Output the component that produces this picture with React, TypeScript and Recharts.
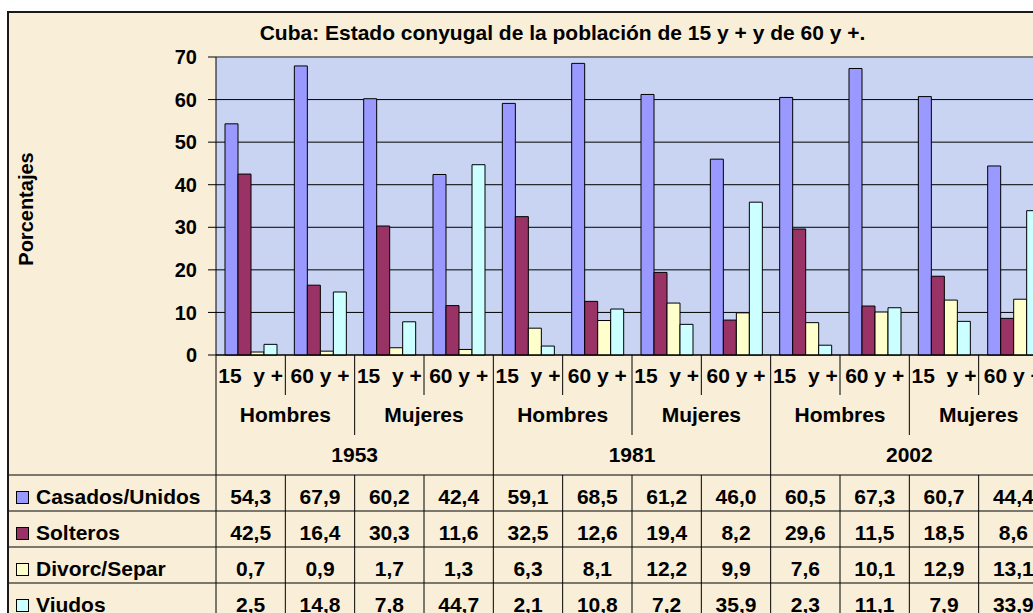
import React from 'react';
import { BarChart, Bar, XAxis, YAxis, CartesianGrid, ReferenceLine } from 'recharts';

// categories (age groups / sex / census year)
const ageLabels = ['15  y +', '60 y +', '15  y +', '60 y +', '15  y +', '60 y +', '15  y +', '60 y +', '15  y +', '60 y +', '15  y +', '60 y +'];
const sexLabels = ['Hombres', 'Mujeres', 'Hombres', 'Mujeres', 'Hombres', 'Mujeres'];
const yearLabels = ['1953', '1981', '2002'];

// series values (%)
const casados = [54.3, 67.9, 60.2, 42.4, 59.1, 68.5, 61.2, 46.0, 60.5, 67.3, 60.7, 44.4];
const solteros = [42.5, 16.4, 30.3, 11.6, 32.5, 12.6, 19.4, 8.2, 29.6, 11.5, 18.5, 8.6];
const divorc = [0.7, 0.9, 1.7, 1.3, 6.3, 8.1, 12.2, 9.9, 7.6, 10.1, 12.9, 13.1];
const viudos = [2.5, 14.8, 7.8, 44.7, 2.1, 10.8, 7.2, 35.9, 2.3, 11.1, 7.9, 33.9];

const yTicks = [0, 10, 20, 30, 40, 50, 60, 70];

const series = [
  { key: 'casados', name: 'Casados/Unidos', color: '#9999FF', values: casados },
  { key: 'solteros', name: 'Solteros', color: '#993366', values: solteros },
  { key: 'divorc', name: 'Divorc/Separ', color: '#FFFFCC', values: divorc },
  { key: 'viudos', name: 'Viudos', color: '#CCFFFF', values: viudos },
];

const data = ageLabels.map((age, i) => ({
  key: i,
  age,
  casados: casados[i],
  solteros: solteros[i],
  divorc: divorc[i],
  viudos: viudos[i],
}));

const FONT = '"Liberation Sans", Arial, Helvetica, sans-serif';
const BEIGE = '#F9EFD9';
const PLOT_BG = '#C9D4F2';

const CHART_W = 1060;
const CHART_H = 640;
const MARGIN = { top: 57, right: 12, bottom: 21, left: 0 };
const Y_W = 216;
const BW = (CHART_W - MARGIN.right - Y_W) / ageLabels.length;
const HEAD_H = 40;
const ROW_H = 36;

const fmt = (v: number) => v.toFixed(1).replace('.', ',');

const txt = { fontFamily: FONT, fontWeight: 'bold' as const, fontSize: 21, fill: '#000' };

const AgeTick = ({ x, y, index }: any) => {
  const left = x - BW / 2;
  return (
    <g>
      <line x1={left} y1={y} x2={left} y2={y + HEAD_H} stroke="#000" />
      <text x={x} y={y + 28} textAnchor="middle" style={{ whiteSpace: 'pre' }} {...txt}>
        {ageLabels[index]}
      </text>
    </g>
  );
};

const SexTick = ({ x, y, index }: any) => {
  if (index % 2 !== 0) return <g />;
  const left = x - BW / 2;
  return (
    <g>
      <line x1={left} y1={y} x2={left} y2={y + HEAD_H} stroke="#000" />
      <text x={x + BW / 2} y={y + 27} textAnchor="middle" {...txt}>
        {sexLabels[index / 2]}
      </text>
    </g>
  );
};

const YearTick = ({ x, y, index }: any) => {
  if (index % 4 !== 0) return <g />;
  const left = x - BW / 2;
  return (
    <g>
      <line x1={left} y1={y} x2={left} y2={y + HEAD_H} stroke="#000" />
      <text x={x + BW * 1.5} y={y + 27} textAnchor="middle" {...txt}>
        {yearLabels[index / 4]}
      </text>
    </g>
  );
};

const RowTick = ({ x, y, index, s }: any) => {
  const left = x - BW / 2;
  return (
    <g>
      {index === 0 && (
        <g>
          <line x1={9} y1={y} x2={CHART_W} y2={y} stroke="#000" />
          <rect x={16.5} y={y + 16.5} width={12} height={12} fill={s.color} stroke="#000" />
          <text x={36} y={y + 29} {...txt}>
            {s.name}
          </text>
        </g>
      )}
      <line x1={left} y1={y} x2={left} y2={y + ROW_H} stroke="#000" />
      <text x={x} y={y + 29} textAnchor="middle" {...txt}>
        {fmt(s.values[index])}
      </text>
    </g>
  );
};

const YTitle = () => (
  <text
    x={26}
    y={209}
    transform="rotate(-90 26 209)"
    textAnchor="middle"
    dominantBaseline="central"
    fontFamily={FONT}
    fontWeight="bold"
    fontSize={20}
    fill="#000"
  >
    Porcentajes
  </text>
);

export default function App() {
  return (
    <div style={{ position: 'fixed', left: 0, top: 0, width: 1033, height: 613, overflow: 'hidden', background: '#fff' }}>
      <div
        style={{
          position: 'absolute',
          left: 0,
          top: -18,
          width: 1125,
          textAlign: 'center',
          fontFamily: FONT,
          fontWeight: 'bold',
          fontSize: 21,
          lineHeight: '21px',
          color: '#666',
        }}
      >
        Gráfico 3
      </div>
      <div
        style={{
          position: 'absolute',
          left: 7,
          top: 11,
          width: 1100,
          height: 700,
          background: BEIGE,
          border: '2px solid #1a1a1a',
        }}
      />
      <div
        style={{
          position: 'absolute',
          left: 0,
          top: 22,
          width: 1125,
          textAlign: 'center',
          fontFamily: FONT,
          fontWeight: 'bold',
          fontSize: 21,
          lineHeight: '21px',
          color: '#000',
        }}
      >
        Cuba: Estado conyugal de la población de 15 y + y de 60 y +.
      </div>
      <div style={{ position: 'absolute', left: 0, top: 0 }}>
        <BarChart
          width={CHART_W}
          height={CHART_H}
          data={data}
          margin={MARGIN}
          barGap={0}
          barCategoryGap="13%"
        >
          <CartesianGrid horizontal vertical={false} stroke="#000" fill={PLOT_BG} fillOpacity={1} />
          <YAxis
            type="number"
            domain={[0, 70]}
            ticks={yTicks}
            width={Y_W}
            interval={0}
            tickSize={8}
            tickMargin={11}
            axisLine={{ stroke: '#000' }}
            tickLine={{ stroke: '#000' }}
            tick={{ fontFamily: FONT, fontWeight: 'bold', fontSize: 20, fill: '#000' }}
            label={<YTitle />}
          />
          <XAxis
            dataKey="key"
            type="category"
            height={HEAD_H}
            interval={0}
            tickSize={0}
            tickMargin={0}
            tickLine={false}
            axisLine={{ stroke: '#000' }}
            tick={(p: any) => <AgeTick {...p} />}
          />
          <XAxis
            xAxisId="r1-sex"
            dataKey="key"
            type="category"
            height={HEAD_H}
            interval={0}
            tickSize={0}
            tickMargin={0}
            tickLine={false}
            axisLine={false}
            tick={(p: any) => <SexTick {...p} />}
          />
          <XAxis
            xAxisId="r2-year"
            dataKey="key"
            type="category"
            height={HEAD_H}
            interval={0}
            tickSize={0}
            tickMargin={0}
            tickLine={false}
            axisLine={false}
            tick={(p: any) => <YearTick {...p} />}
          />
          {series.map((s, i) => (
            <XAxis
              key={`row-${s.key}`}
              xAxisId={`r${i + 3}-${s.key}`}
              dataKey="key"
              type="category"
              height={ROW_H}
              interval={0}
              tickSize={0}
              tickMargin={0}
              tickLine={false}
              axisLine={false}
              tick={(p: any) => <RowTick {...p} s={s} />}
            />
          ))}
          <ReferenceLine y={70} stroke="#808080" strokeWidth={2} />
          {series.map((s) => (
            <Bar
              key={s.key}
              dataKey={s.key}
              name={s.name}
              fill={s.color}
              stroke="#000"
              strokeWidth={1}
              isAnimationActive={false}
            />
          ))}
        </BarChart>
      </div>
    </div>
  );
}
